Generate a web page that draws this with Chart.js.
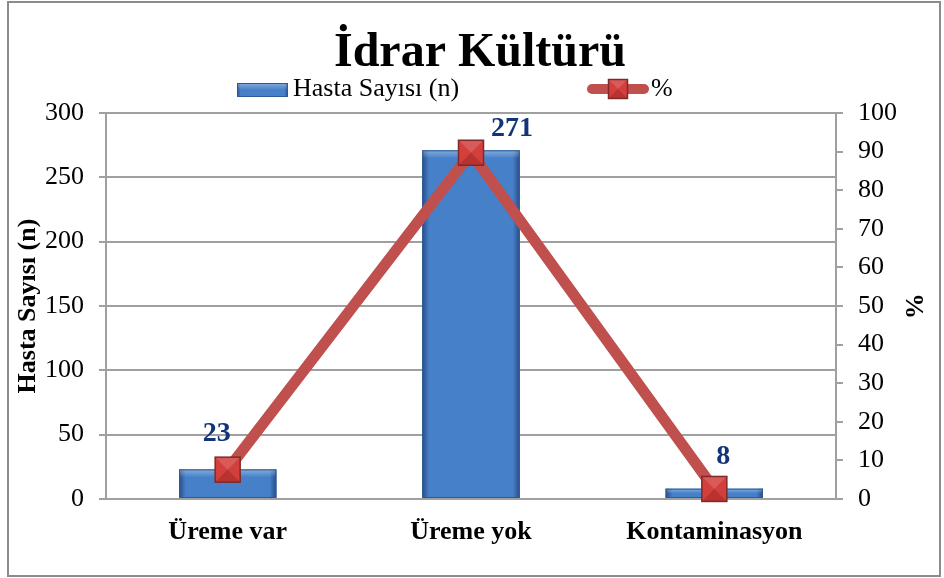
<!DOCTYPE html>
<html>
<head>
<meta charset="utf-8">
<script src="https://cdn.jsdelivr.net/npm/chart.js@4/dist/chart.umd.min.js"></script>
<style>
  html, body { margin: 0; padding: 0; background: #ffffff; }
  #wrap { width: 944px; height: 578px; position: relative; }
</style>
</head>
<body>
<div id="wrap"><canvas id="idrarChart" width="944" height="578"></canvas></div>
<script>
// Data
const categories = ['Üreme var', 'Üreme yok', 'Kontaminasyon'];
const hastaSayisi = [23, 271, 8];
const yuzde = [7.6, 89.7, 2.6];

const chartTitle = 'İdrar Kültürü';
const barLabel = 'Hasta Sayısı (n)';
const lineLabel = '%';

const SERIF = "'Liberation Serif', 'Times New Roman', serif";
const GRID_GRAY = '#a0a0a0';
const LABEL_BLUE = '#14347a';
const LINE_RED = '#c0504d';

// paint the bevelled blue bar look into a rect
function paintBlueBar(ctx, left, top, w, h) {
    ctx.save();
    ctx.fillStyle = '#4680c9';
    ctx.fillRect(left, top, w, h);
    const g = ctx.createLinearGradient(left, 0, left + w, 0);
    g.addColorStop(0, 'rgba(15,35,80,0.55)');
    g.addColorStop(0.07, 'rgba(15,35,80,0.0)');
    g.addColorStop(0.93, 'rgba(15,35,80,0.0)');
    g.addColorStop(1, 'rgba(15,35,80,0.55)');
    ctx.fillStyle = g;
    ctx.fillRect(left, top, w, h);
    const topH = Math.min(8, h / 2);
    const g2 = ctx.createLinearGradient(0, top, 0, top + topH);
    g2.addColorStop(0, 'rgba(255,255,255,0.35)');
    g2.addColorStop(1, 'rgba(255,255,255,0.0)');
    ctx.fillStyle = g2;
    ctx.fillRect(left, top, w, topH);
    ctx.strokeStyle = '#2d5a94';
    ctx.lineWidth = 1;
    ctx.strokeRect(left + 0.5, top + 0.5, w - 1, h - 1);
    ctx.restore();
}

function paintRedMarker(ctx, cx, cy, s) {
    ctx.save();
    const h = s / 2;
    ctx.fillStyle = '#d23f3c';
    ctx.fillRect(cx - h, cy - h, s, s);
    // pyramid faces
    ctx.fillStyle = 'rgba(255,255,255,0.15)';
    ctx.beginPath();
    ctx.moveTo(cx - h, cy - h); ctx.lineTo(cx + h, cy - h); ctx.lineTo(cx, cy); ctx.closePath();
    ctx.fill();
    ctx.fillStyle = 'rgba(80,0,0,0.2)';
    ctx.beginPath();
    ctx.moveTo(cx - h, cy + h); ctx.lineTo(cx + h, cy + h); ctx.lineTo(cx, cy); ctx.closePath();
    ctx.fill();
    ctx.strokeStyle = '#7f2a28';
    ctx.lineWidth = 1.5;
    ctx.strokeRect(cx - h, cy - h, s, s);
    ctx.restore();
}

const framePlugin = {
    id: 'framePlugin',
    beforeDraw(chart) {
        const ctx = chart.ctx;
        ctx.save();
        ctx.fillStyle = '#ffffff';
        ctx.fillRect(0, 0, chart.width, chart.height);
        ctx.strokeStyle = '#8c8c8c';
        ctx.lineWidth = 2;
        ctx.strokeRect(8, 2, 932, 574);
        // title
        ctx.fillStyle = '#000000';
        ctx.font = 'bold 48px ' + SERIF;
        ctx.textAlign = 'center';
        ctx.textBaseline = 'alphabetic';
        ctx.fillText(chartTitle, 480, 66);
        // legend
        ctx.font = '26px ' + SERIF;
        ctx.textAlign = 'left';
        ctx.textBaseline = 'middle';
        paintBlueBar(ctx, 237, 83, 51, 14);
        ctx.fillStyle = '#000000';
        ctx.fillText(barLabel, 293, 89);
        ctx.strokeStyle = LINE_RED;
        ctx.lineWidth = 10;
        ctx.lineCap = 'round';
        ctx.beginPath();
        ctx.moveTo(592, 89);
        ctx.lineTo(644, 89);
        ctx.stroke();
        paintRedMarker(ctx, 618, 89, 19);
        ctx.fillStyle = '#000000';
        ctx.fillText(lineLabel, 651, 89);
        ctx.restore();
    }
};

const barStylePlugin = {
    id: 'barStylePlugin',
    afterDatasetDraw(chart, args) {
        const ctx = chart.ctx;
        if (args.index === 0) {
            args.meta.data.forEach(bar => {
                const p = bar.getProps(['x', 'y', 'base', 'width'], true);
                paintBlueBar(ctx, p.x - p.width / 2, p.y, p.width, p.base - p.y);
            });
        }
        if (args.index === 1) {
            args.meta.data.forEach(pt => {
                const p = pt.getProps(['x', 'y'], true);
                paintRedMarker(ctx, p.x, p.y, 25);
            });
        }
    }
};

// Excel shifted the value labels aside of the markers
const labelShift = [[-11, -36], [41, -22], [9, -32]];

const valueLabelPlugin = {
    id: 'valueLabelPlugin',
    afterDatasetsDraw(chart) {
        const ctx = chart.ctx;
        const meta = chart.getDatasetMeta(0);
        ctx.save();
        ctx.font = 'bold 28px ' + SERIF;
        ctx.fillStyle = LABEL_BLUE;
        ctx.textAlign = 'center';
        ctx.textBaseline = 'middle';
        meta.data.forEach((bar, i) => {
            const p = bar.getProps(['x', 'y'], true);
            ctx.fillText(String(hastaSayisi[i]), p.x + labelShift[i][0], p.y + labelShift[i][1]);
        });
        ctx.restore();
    }
};

const ctx = document.getElementById('idrarChart').getContext('2d');
const config = {
    type: 'bar',
    data: {
        labels: categories,
        datasets: [{
            type: 'bar',
            label: barLabel,
            data: hastaSayisi,
            yAxisID: 'y',
            backgroundColor: '#4680c9',
            borderWidth: 0,
            barPercentage: 0.4,
            categoryPercentage: 1.0,
            order: 2
        }, {
            type: 'line',
            label: lineLabel,
            data: yuzde,
            yAxisID: 'y1',
            borderColor: LINE_RED,
            borderWidth: 11,
            pointRadius: 0,
            pointHoverRadius: 0,
            tension: 0,
            order: 1
        }]
    },
    options: {
        responsive: false,
        animation: false,
        layout: {
            padding: { top: 113, left: 0, right: 0, bottom: 0 }
        },
        scales: {
            x: {
                afterFit: (scale) => { scale.height = 79; },
                grid: { display: false, drawTicks: false },
                border: { display: true, color: GRID_GRAY, width: 2 },
                ticks: {
                    color: '#000000',
                    padding: 18,
                    font: { family: SERIF, size: 26, weight: 'bold' }
                }
            },
            y: {
                position: 'left',
                min: 0,
                max: 300,
                afterFit: (scale) => { scale.width = 106; },
                ticks: {
                    stepSize: 50,
                    color: '#000000',
                    padding: 15,
                    font: { family: SERIF, size: 26 }
                },
                grid: {
                    color: GRID_GRAY,
                    lineWidth: 2,
                    drawTicks: true,
                    tickLength: 7
                },
                border: { display: true, color: GRID_GRAY, width: 2 },
                title: {
                    display: true,
                    text: barLabel,
                    color: '#000000',
                    padding: { top: 13, bottom: 0 },
                    font: { family: SERIF, size: 26, weight: 'bold' }
                }
            },
            y1: {
                position: 'right',
                min: 0,
                max: 100,
                afterFit: (scale) => { scale.width = 108; },
                ticks: {
                    stepSize: 10,
                    color: '#000000',
                    padding: 15,
                    font: { family: SERIF, size: 26 }
                },
                grid: {
                    color: GRID_GRAY,
                    lineWidth: 2,
                    drawOnChartArea: false,
                    drawTicks: true,
                    tickLength: 7
                },
                border: { display: true, color: GRID_GRAY, width: 2 },
                title: {
                    display: true,
                    text: lineLabel,
                    color: '#000000',
                    padding: { top: 16, bottom: 0 },
                    font: { family: SERIF, size: 26, weight: 'bold' }
                }
            }
        },
        plugins: {
            legend: { display: false },
            title: { display: false },
            tooltip: { enabled: false }
        }
    },
    plugins: [framePlugin, barStylePlugin, valueLabelPlugin]
};

new Chart(ctx, config);
</script>
</body>
</html>
